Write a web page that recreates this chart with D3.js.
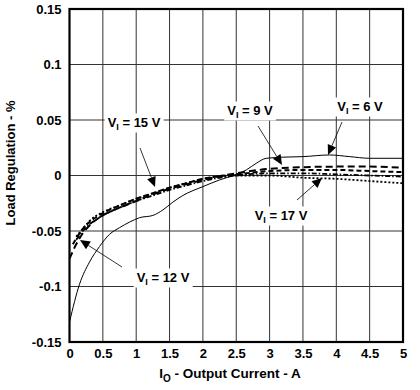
<!DOCTYPE html>
<html><head><meta charset="utf-8">
<script src="https://cdn.jsdelivr.net/npm/d3@7"></script>
<style>body{margin:0;background:#fff}svg{display:block}text{font-family:"Liberation Sans",Arial,sans-serif}</style>
</head><body><svg id="c" width="420" height="390"></svg>
<script>
const xTicks = [0,0.5,1,1.5,2,2.5,3,3.5,4,4.5,5];
const xTickLabels = ["0","0.5","1","1.5","2","2.5","3","3.5","4","4.5","5"];
const yTicks = [-0.15,-0.1,-0.05,0,0.05,0.1,0.15];
const yTickLabels = ["-0.15","-0.1","-0.05","0","0.05","0.1","0.15"];

const v6I = [0,0.15,0.3,0.45,0.6,0.75,0.9,1.05,1.25,1.4,1.55,1.7,2,2.25,2.5,2.65,2.8,2.95,3.2,3.5,3.9,4.2,4.5,5];
const v6V = [-0.132,-0.098,-0.078,-0.064,-0.053,-0.047,-0.042,-0.038,-0.036,-0.031,-0.024,-0.018,-0.010,-0.004,0.001,0.005,0.011,0.0155,0.0165,0.017,0.0185,0.017,0.0155,0.0155];

const v9I = [0,0.1,0.2,0.3,0.5,0.75,1,1.25,1.5,1.75,2,2.5,3,3.5,4,4.5,5];
const v9V = [-0.075,-0.062,-0.052,-0.045,-0.036,-0.029,-0.023,-0.017,-0.012,-0.008,-0.004,0.002,0.006,0.0075,0.008,0.008,0.007];

const v15I = [0.05,0.2,0.3,0.5,0.75,1,1.25,1.5,1.75,2,2.5,3,3.5,4,4.5,5];
const v15V = [-0.062,-0.048,-0.042,-0.034,-0.027,-0.021,-0.016,-0.011,-0.007,-0.003,0.001,0.004,0.005,0.005,0.004,0.003];

const v12I = [0.1,0.2,0.3,0.5,0.75,1,1.25,1.5,1.75,2,2.5,3,3.5,4,4.5,5];
const v12V = [-0.058,-0.05,-0.044,-0.036,-0.029,-0.023,-0.018,-0.013,-0.009,-0.005,0.0,0.002,0.002,0.001,0.0,-0.001];

const v17I = [0.1,0.2,0.3,0.5,0.75,1,1.25,1.5,1.75,2,2.5,3,3.5,4,4.5,5];
const v17V = [-0.055,-0.048,-0.041,-0.033,-0.027,-0.021,-0.016,-0.011,-0.007,-0.003,0.0,0.0,-0.002,-0.003,-0.005,-0.007];

const svg = d3.select("#c");
const L=69.5, R=403, T=9, B=342;
const x = d3.scaleLinear().domain([0,5]).range([L,R]);
const y = d3.scaleLinear().domain([-0.15,0.15]).range([B,T]);

// grid
svg.append("g").selectAll("line").data(xTicks.slice(1,-1)).join("line")
  .attr("x1",d=>x(d)).attr("x2",d=>x(d)).attr("y1",T).attr("y2",B)
  .attr("stroke","#333").attr("stroke-width",1);
svg.append("g").selectAll("line").data(yTicks.slice(1,-1)).join("line")
  .attr("y1",d=>y(d)).attr("y2",d=>y(d)).attr("x1",L).attr("x2",R)
  .attr("stroke","#333").attr("stroke-width",1);

// axes tick labels
const xa = d3.axisBottom(x).tickValues(xTicks).tickFormat((d,i)=>xTickLabels[i]).tickSize(0).tickPadding(7);
const gx = svg.append("g").attr("transform",`translate(0,${B})`).call(xa);
gx.select(".domain").remove();
gx.selectAll("text").attr("font-size",13).attr("font-weight","bold").attr("fill","#000").attr("font-family","Liberation Sans,Arial,sans-serif");
const ya = d3.axisLeft(y).tickValues(yTicks).tickFormat((d,i)=>yTickLabels[i]).tickSize(0).tickPadding(8);
const gy = svg.append("g").attr("transform",`translate(${L},0)`).call(ya);
gy.select(".domain").remove();
gy.selectAll("text").attr("font-size",13).attr("font-weight","bold").attr("fill","#000").attr("font-family","Liberation Sans,Arial,sans-serif");

// curves
const line = d3.line().x(d=>x(d[0])).y(d=>y(d[1])).curve(d3.curveMonotoneX);
const series = [
  {I:v6I,V:v6V,dash:null,w:1},
  {I:v9I,V:v9V,dash:"7,4",w:2},
  {I:v15I,V:v15V,dash:"5,3",w:2},
  {I:v12I,V:v12V,dash:"5,2,1.5,2",w:1.8},
  {I:v17I,V:v17V,dash:"2,2",w:1.8}
];
series.forEach(s=>{
  svg.append("path").datum(s.I.map((d,i)=>[d,s.V[i]])).attr("d",line)
    .attr("fill","none").attr("stroke","#000").attr("stroke-width",s.w)
    .attr("stroke-dasharray",s.dash);
});

// frame
svg.append("rect").attr("x",L).attr("y",T).attr("width",R-L).attr("height",B-T)
  .attr("fill","none").attr("stroke","#000").attr("stroke-width",2.2);

// annotations
const labels = [
  {t:"15",cx:134,cy:122,from:[140,148],to:[155,187]},
  {t:"9",cx:250,cy:110,from:[258,126],to:[282,165]},
  {t:"6",cx:360,cy:106,from:[342,122],to:[328,155]},
  {t:"17",cx:281,cy:215,from:[297,200],to:[322,178]},
  {t:"12",cx:163,cy:277,from:[122,267],to:[80,240]}
];
labels.forEach(l=>{
  const g = svg.append("g");
  const t = g.append("text").attr("x",l.cx).attr("y",l.cy+4.5).attr("text-anchor","middle")
    .attr("font-size",13).attr("font-weight","bold").attr("fill","#000");
  t.append("tspan").text("V");
  t.append("tspan").attr("font-size",9).attr("dy",3).text("I");
  t.append("tspan").attr("dy",-3).text(" = "+l.t+" V");
  const bb = t.node().getBBox();
  g.insert("rect","text").attr("x",bb.x-3).attr("y",bb.y-1).attr("width",bb.width+6).attr("height",bb.height+2).attr("fill","#fff");
  const dx=l.to[0]-l.from[0], dy=l.to[1]-l.from[1], len=Math.hypot(dx,dy), ux=dx/len, uy=dy/len;
  const ah=10, aw=4.5;
  const bx=l.to[0]-ux*ah, by=l.to[1]-uy*ah;
  svg.append("line").attr("x1",l.from[0]).attr("y1",l.from[1]).attr("x2",bx).attr("y2",by)
    .attr("stroke","#000").attr("stroke-width",0.8);
  svg.append("path").attr("d",`M${l.to[0]},${l.to[1]}L${bx-uy*aw},${by+ux*aw}L${bx+uy*aw},${by-ux*aw}Z`).attr("fill","#000");
});

// axis titles
const xt = svg.append("text").attr("x",230).attr("y",378).attr("text-anchor","middle")
  .attr("font-size",13.5).attr("font-weight","bold").attr("fill","#000");
xt.append("tspan").text("I");
xt.append("tspan").attr("font-size",10).attr("dy",4).text("O");
xt.append("tspan").attr("dy",-4).text(" - Output Current - A");

svg.append("text").attr("transform","translate(15,163) rotate(-90)").attr("text-anchor","middle")
  .attr("font-size",13).attr("font-weight","bold").attr("fill","#000").text("Load Regulation - %");
</script></body></html>
